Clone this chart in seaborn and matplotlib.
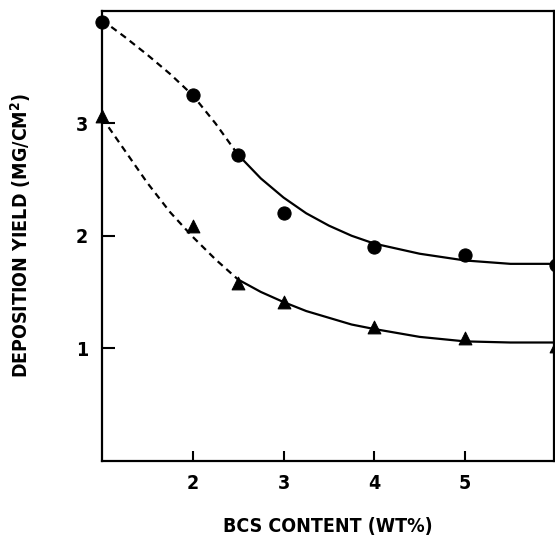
import pandas as pd
import matplotlib
matplotlib.use("Agg")
import matplotlib.pyplot as plt
import seaborn as sns

# measured points
bcs_content = [1, 2, 2.5, 3, 4, 5, 6]
yield_circle = [3.90, 3.25, 2.72, 2.20, 1.90, 1.83, 1.74]
yield_triangle = [3.07, 2.09, 1.58, 1.41, 1.19, 1.09, 1.02]

# fitted curves (dashed part, then solid part)
curve_x_dash = [1.0, 1.25, 1.5, 1.75, 2.0, 2.25, 2.5]
curve_circle_dash = [3.92, 3.77, 3.61, 3.44, 3.25, 3.00, 2.72]
curve_triangle_dash = [3.05, 2.76, 2.47, 2.21, 1.99, 1.79, 1.61]

curve_x_solid = [2.5, 2.75, 3.0, 3.25, 3.5, 3.75, 4.0, 4.5, 5.0, 5.5, 6.0]
curve_circle_solid = [2.72, 2.51, 2.34, 2.20, 2.09, 2.00, 1.93, 1.84, 1.78, 1.75, 1.75]
curve_triangle_solid = [1.61, 1.50, 1.41, 1.33, 1.27, 1.21, 1.17, 1.10, 1.06, 1.05, 1.05]

x_ticks = [2, 3, 4, 5]
y_ticks = [1, 2, 3]

sns.set_style("ticks")
plt.rcParams['font.family'] = ['DejaVu Sans']
plt.rcParams['font.stretch'] = 'condensed'
plt.rcParams['font.weight'] = 'bold'
plt.rcParams['text.color'] = 'black'
plt.rcParams['axes.labelcolor'] = 'black'
plt.rcParams['axes.labelweight'] = 'bold'

fig = plt.figure(figsize=(5.55, 5.48), dpi=100)
ax = fig.add_axes([102 / 555, 87.5 / 548, 452 / 555, 449.5 / 548])

dash = pd.DataFrame({"x": curve_x_dash, "c": curve_circle_dash, "t": curve_triangle_dash})
solid = pd.DataFrame({"x": curve_x_solid, "c": curve_circle_solid, "t": curve_triangle_solid})
pts = pd.DataFrame({"x": bcs_content, "c": yield_circle, "t": yield_triangle})

for col in ["c", "t"]:
    sns.lineplot(data=dash, x="x", y=col, ax=ax, color="black", lw=1.6,
                 linestyle=(0, (3, 2.2)), sort=False)
    sns.lineplot(data=solid, x="x", y=col, ax=ax, color="black", lw=1.6, sort=False)

sns.scatterplot(data=pts, x="x", y="c", ax=ax, marker="o", s=90, color="black",
                edgecolor="black", clip_on=False, zorder=5)
sns.scatterplot(data=pts, x="x", y="t", ax=ax, marker="^", s=85, color="black",
                edgecolor="black", clip_on=False, zorder=5)

ax.set_xlim(1, 5.98)
ax.set_ylim(0, 4.0)
ax.set_xticks(x_ticks)
ax.set_yticks(y_ticks)
ax.tick_params(direction="in", width=1.5, labelsize=14, colors="black")
ax.tick_params(axis="x", length=7, pad=10)
ax.tick_params(axis="y", length=9, pad=10)
for s in ax.spines.values():
    s.set_visible(True)
    s.set_linewidth(1.6)
    s.set_color("black")

ax.set_xlabel("BCS CONTENT (WT%)", fontsize=14, labelpad=17)
ax.set_ylabel(r"DEPOSITION YIELD (MG/CM$\mathbf{^2}$)", fontsize=14, labelpad=31)

fig.savefig("out.png", dpi=100)
